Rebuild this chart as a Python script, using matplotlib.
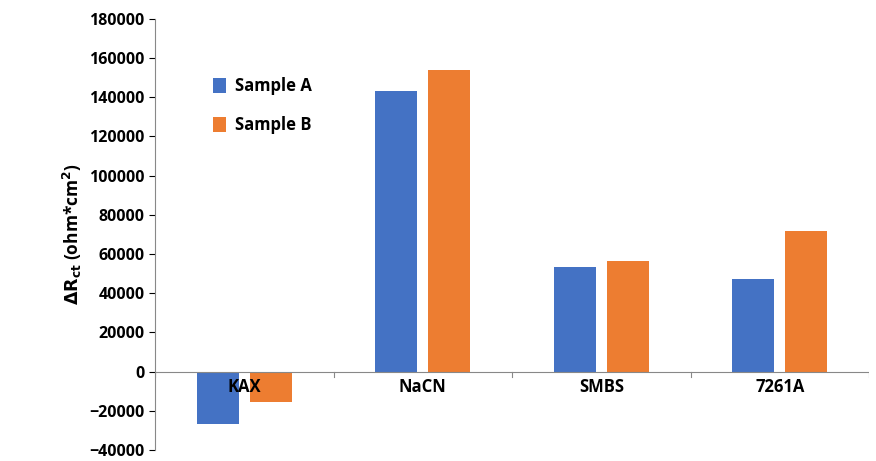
import numpy as np
import matplotlib.pyplot as plt

categories = ['KAX', 'NaCN', 'SMBS', '7261A']
sample_a = [-27000, 143000, 53300, 47200]
sample_b = [-15500, 153800, 56400, 71800]

plt.rcParams['font.family'] = ['Open Sans', 'DejaVu Sans']
fig = plt.figure(figsize=(8.76, 4.61), dpi=100)
ax = fig.add_axes([0.177, 0.024, 0.815, 0.935])

x = np.arange(len(categories))
w = 0.235
ax.bar(x - w / 2 - 0.03, sample_a, w, color='#4472C4', label='Sample A')
ax.bar(x + w / 2 + 0.03, sample_b, w, color='#ED7D31', label='Sample B')

ax.set_xlim(-0.5, 3.5)
ax.set_ylim(-40000, 180000)
ax.set_yticks(range(-40000, 180001, 20000))
ax.tick_params(axis='y', labelsize=11.5, length=4)
for t in ax.get_yticklabels():
    t.set_fontweight('bold')
ax.set_xticks([])
ax.axhline(0, color='#888888', lw=0.8)
for xi in np.arange(-0.5, 3.6, 1):
    ax.plot([xi, xi], [0, -3000], color='#888888', lw=0.8)
for xi, c in zip(x, categories):
    ax.text(xi, -8000, c, ha='center', va='center', fontsize=12, fontweight='bold')
for s in ['top', 'right', 'bottom']:
    ax.spines[s].set_visible(False)
ax.spines['left'].set_color('#888888')
ax.set_ylabel(r'$\mathbf{\Delta R_{ct}}$ (ohm*cm$^\mathbf{2}$)', fontsize=12.5, fontweight='bold')
ax.legend(loc='upper left', bbox_to_anchor=(0.06, 0.9), frameon=False,
          prop={'weight': 'bold', 'size': 12}, handlelength=0.8, handleheight=1.0,
          labelspacing=1.25, handletextpad=0.5)
fig.savefig('out.png')
